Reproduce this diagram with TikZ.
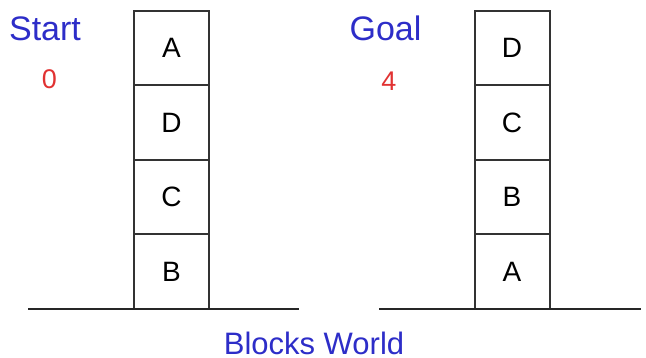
\documentclass[tikz,border=0pt]{standalone}
\usepackage{fontspec}
\setmainfont{Liberation Sans}
\definecolor{lblblue}{RGB}{45,45,200}
\definecolor{lblred}{RGB}{225,50,50}
\begin{document}
\begin{tikzpicture}[x=1pt,y=-1pt,
  blockbox/.style={draw=black!80,line width=2pt,minimum width=75pt,minimum height=74.5pt,inner sep=0pt,outer sep=0pt,font=\fontsize{28}{28}\selectfont},
  title/.style={text=lblblue,inner sep=0pt,font=\fontsize{34}{34}\selectfont},
  score/.style={text=lblred,inner sep=0pt,font=\fontsize{27}{27}\selectfont},
  ground/.style={draw=black!85,line width=2.2pt}]
\useasboundingbox (0,0) rectangle (646,358);
% left stack
\node[blockbox] (a1) at (171.5,48.25) {A};
\node[blockbox] (d1) at (171.5,122.75) {D};
\node[blockbox] (c1) at (171.5,197.25) {C};
\node[blockbox] (b1) at (171.5,271.75) {B};
% right stack
\node[blockbox] (d2) at (512,48.25) {D};
\node[blockbox] (c2) at (512,122.75) {C};
\node[blockbox] (b2) at (512,197.25) {B};
\node[blockbox] (a2) at (512,271.75) {A};
% ground lines
\coordinate (gl1) at (28,309);
\coordinate (gl2) at (299,309);
\coordinate (gr1) at (379,309);
\coordinate (gr2) at (641,309);
\draw[ground] (gl1) -- (gl2);
\draw[ground] (gr1) -- (gr2);
% labels
\node[title] (start) at (45,29) {Start};
\node[score] (s0) at (49.5,79) {0};
\node[title] (goal) at (385.5,28.5) {Goal};
\node[score] (s4) at (389,81) {4};
\node[title,font=\fontsize{31}{31}\selectfont] (bw) at (314,343) {Blocks World};
\end{tikzpicture}
\end{document}
